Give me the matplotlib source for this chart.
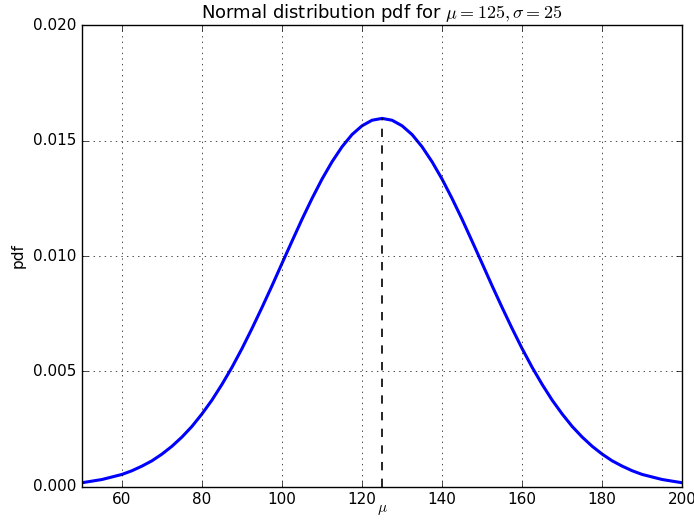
import matplotlib
matplotlib.use("Agg")
import matplotlib.pyplot as plt

plt.style.use('classic')

mu = 125
sigma = 25
# pdf values, symmetric around mu (offsets 0, 2.5, ..., 75)
offsets = [0, 2.5, 5, 7.5, 10, 12.5, 15, 17.5, 20, 22.5, 25, 27.5, 30, 32.5, 35,
           37.5, 40, 42.5, 45, 47.5, 50, 52.5, 55, 57.5, 60, 62.5, 65, 70, 75]
half = [0.01596, 0.01588, 0.01564, 0.01526, 0.01473, 0.01408, 0.01333, 0.01249,
        0.01159, 0.01064, 0.00968, 0.00871, 0.00777, 0.00686, 0.00599, 0.00518,
        0.00444, 0.00376, 0.00316, 0.00262, 0.00216, 0.00176, 0.00142, 0.00113,
        0.00090, 0.00070, 0.00054, 0.00032, 0.00018]

xs = [mu - d for d in offsets[::-1]] + [mu + d for d in offsets[1:]]
ys = half[::-1] + half[1:]
peak = half[0]

fig = plt.figure(figsize=(6.94, 5.23), dpi=100)
fig.patch.set_facecolor('white')
ax = fig.add_axes([0.118, 0.069, 0.865, 0.883])
ax.plot(xs, ys, color='blue', linewidth=2.2)
ax.plot([mu, mu], [0, peak], 'k--', linewidth=1.2)
ax.set_xlim(50, 200)
ax.set_ylim(0, 0.020)
ax.set_xticks(range(60, 201, 20))
ax.set_yticks([0, 0.005, 0.010, 0.015, 0.020])
ax.set_yticklabels(['0.000', '0.005', '0.010', '0.015', '0.020'])
ax.grid(True)
ax.tick_params(labelsize=11)
ax.set_xlabel(r'$\mu$', fontsize=11, labelpad=-4)
ax.set_ylabel('pdf', fontsize=11)
ax.set_title(r'Normal distribution pdf for $\mu=125, \sigma=25$', fontsize=13)
fig.savefig('out.png', dpi=100, facecolor='white')
